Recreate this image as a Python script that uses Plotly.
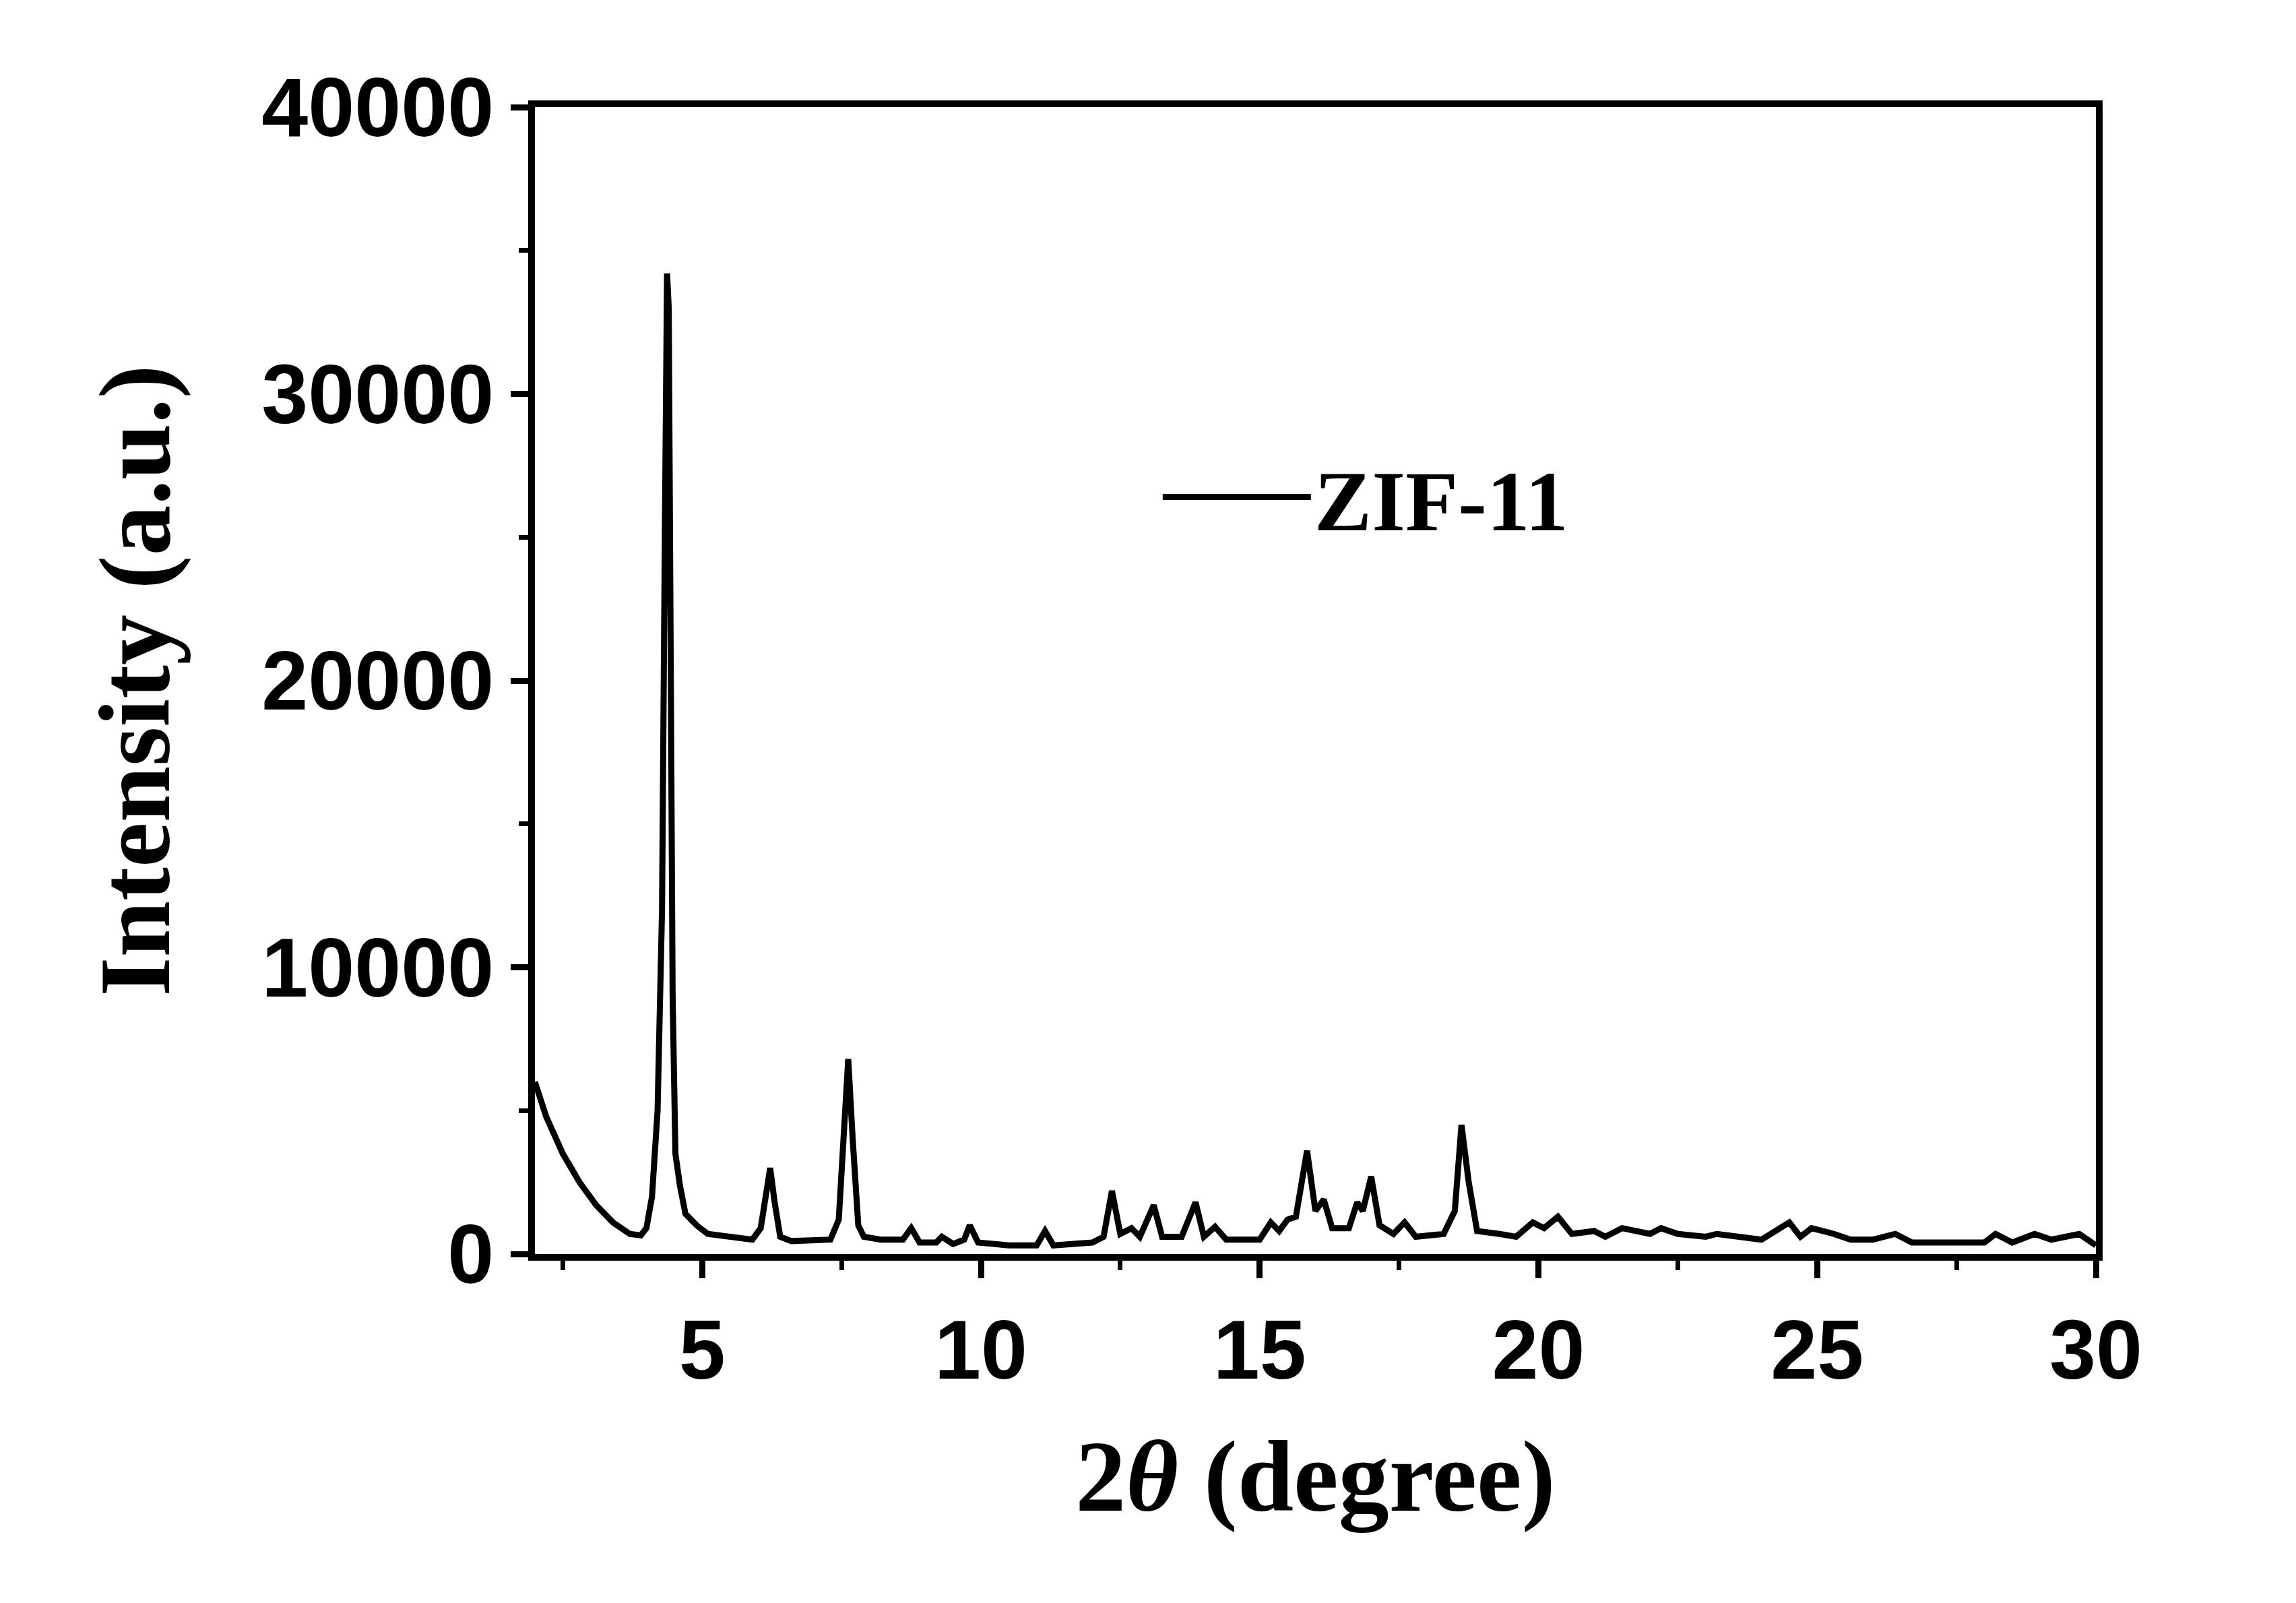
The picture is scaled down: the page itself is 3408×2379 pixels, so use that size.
import plotly.graph_objects as go

two_theta = [2.0,2.2,2.5,2.8,3.1,3.4,3.7,3.9,4.0,4.1,4.2,4.28,4.33,4.37,4.40,4.43,4.47,4.52,4.56,4.6,4.7,4.9,5.1,5.5,5.9,6.05,6.15,6.22,6.3,6.4,6.6,7.0,7.3,7.45,7.55,7.62,7.7,7.8,7.9,8.2,8.6,8.75,8.9,9.2,9.3,9.5,9.7,9.8,9.95,10.5,11.0,11.15,11.3,12.0,12.2,12.35,12.5,12.7,12.85,13.1,13.25,13.6,13.85,14.0,14.2,14.4,15.0,15.2,15.35,15.5,15.65,15.85,16.0,16.15,16.3,16.6,16.75,16.85,17.0,17.15,17.4,17.6,17.8,18.3,18.5,18.62,18.75,18.9,19.3,19.6,19.9,20.1,20.35,20.6,21.0,21.2,21.5,22.0,22.2,22.5,23.0,23.2,24.0,24.5,24.7,24.9,25.3,25.6,26.0,26.4,26.7,27.5,28.0,28.2,28.5,28.9,29.2,29.7,30.0]
intensity = [6000,4800,3500,2500,1700,1100,700,650,900,2000,5000,12000,25000,34200,33000,20000,9000,3500,2800,2400,1400,1000,700,600,500,900,2200,3000,1800,600,450,450,500,1200,4800,6800,4000,1000,600,500,500,900,400,400,600,350,500,1000,400,300,300,800,300,400,600,2200,700,900,600,1700,600,600,1800,600,950,500,500,1100,800,1200,1300,3600,1500,1900,900,900,1800,1500,2700,1000,700,1100,600,700,1500,4500,2500,800,700,600,1100,900,1300,700,800,600,900,700,900,700,600,700,500,1100,600,900,700,500,500,700,400,400,400,700,400,700,500,700,300]

fig = go.Figure(go.Scatter(x=two_theta, y=intensity, mode="lines", name="<b>ZIF-11</b>",
                           line=dict(color="black", width=9)))

tickfont = dict(family="Liberation Sans", size=124, color="black", weight="bold")
titlefont = dict(family="Liberation Serif", size=150, color="black")
common = dict(showline=True, linecolor="black", linewidth=10, mirror=True, showgrid=False,
              zeroline=False, ticks="outside", ticklen=26, tickwidth=9, tickcolor="black",
              tickfont=tickfont, title_font=titlefont)
fig.update_xaxes(range=[2, 30], tickvals=[5, 10, 15, 20, 25, 30],
                 minor=dict(ticks="outside", ticklen=14, tickwidth=7, tickcolor="black", dtick=2.5, tick0=0),
                 title_text="<b>2<i>θ</i> (degree)</b>", title_standoff=70, **common)
fig.update_yaxes(range=[0, 40000], tickvals=[0, 10000, 20000, 30000, 40000], tickformat="d",
                 minor=dict(ticks="outside", ticklen=14, tickwidth=7, tickcolor="black", dtick=5000),
                 title_text="<b>Intensity (a.u.)</b>", title_standoff=90, **common)
fig.update_layout(width=3408, height=2379, plot_bgcolor="white", paper_bgcolor="white",
                  margin=dict(l=786, r=305, t=151, b=526),
                  showlegend=True,
                  legend=dict(x=0.40, y=0.66, xanchor="left", yanchor="middle",
                              bgcolor="rgba(0,0,0,0)", itemwidth=220,
                              font=dict(family="Liberation Serif", size=128, color="black")))
fig.write_html("out.html")
